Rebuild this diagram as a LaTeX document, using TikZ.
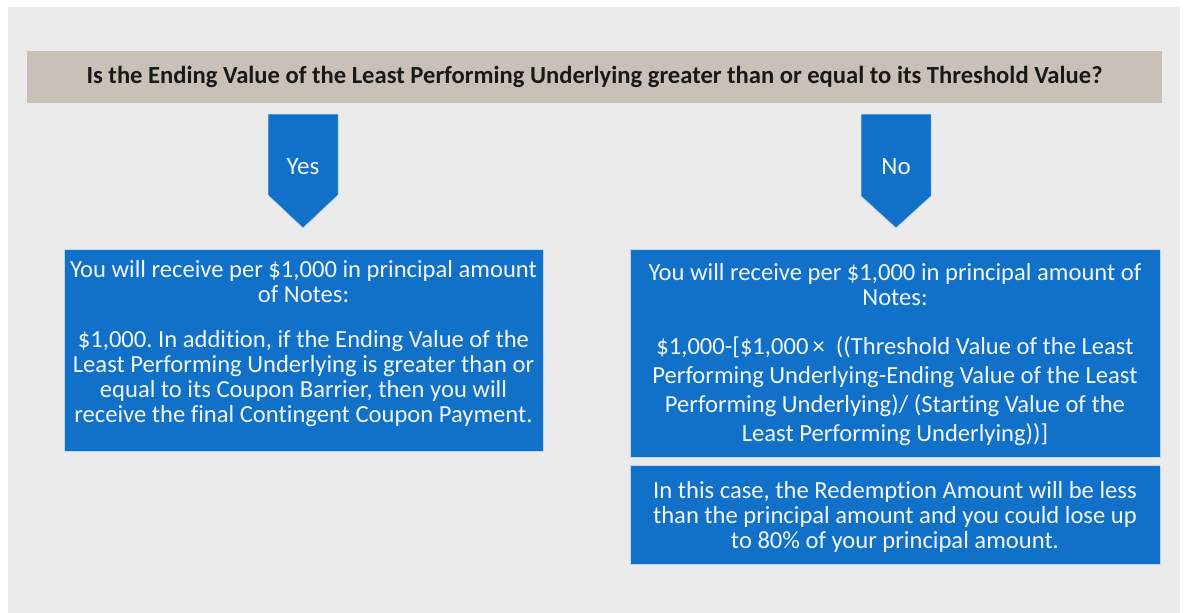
\documentclass[tikz,border=0pt]{standalone}
\usepackage{fontspec}
\setmainfont{Carlito}[Ligatures={NoCommon,TeX}]
\definecolor{pagebg}{RGB}{235,235,235}
\definecolor{bandgray}{RGB}{201,192,184}
\definecolor{myblue}{RGB}{17,112,200}
\definecolor{edgeblue}{RGB}{190,215,238}
\definecolor{softwhite}{RGB}{242,247,255}
\frenchspacing
\begin{document}
\begin{tikzpicture}[x=1pt,y=-1pt,
  band/.style={fill=bandgray, inner sep=0pt, font=\bfseries\fontsize{24.6}{26}\selectfont, text=black!90},
  box/.style={fill=myblue, draw=edgeblue, line width=0.7pt, inner sep=0pt},
  boxtext/.style={text=softwhite, align=center, inner sep=0pt, font=\fontsize{24.6}{25}\selectfont},
  pointer/.style={fill=myblue, draw=edgeblue, line width=0.5pt},
  pointertext/.style={text=softwhite, inner sep=0pt, font=\fontsize{25}{26}\selectfont}]
\useasboundingbox (0,0) rectangle (1186,613);
\fill[pagebg] (8,7) rectangle (1180,613);

% header band
\node[band, minimum width=1135pt, minimum height=52pt] (question) at (594.5,77)
  {Is the Ending Value of the Least Performing Underlying greater than or equal to its Threshold Value?};

% Yes pointer
\draw[pointer] (268,114) -- (338,114) -- (338,195) -- (303,228) -- (268,195) -- cycle;
\node[pointertext] (yes) at (303,167) {Yes};

% No pointer
\draw[pointer] (861,114) -- (931,114) -- (931,196) -- (896,228) -- (861,196) -- cycle;
\node[pointertext] (no) at (896,167) {No};

% Yes result box
\node[box, minimum width=479pt, minimum height=202pt] (yesbox) at (303.5,350) {};
\node[boxtext] (yestext) at (303.5,344)
  {You will receive per \$1,000 in principal amount\\
   of Notes:\\[20pt]
   \$1,000. In addition, if the Ending Value of the\\
   Least Performing Underlying is greater than or\\
   equal to its Coupon Barrier, then you will\\
   receive the final Contingent Coupon Payment.};

% No result boxes
\node[box, minimum width=530pt, minimum height=208pt] (nobox) at (895,353) {};
\node[boxtext] (notext) at (895,355)
  {You will receive per \$1,000 in principal amount of\\
   Notes:\\[24pt]
   \$1,000-[\$1,000\,×\ \ ((Threshold Value of the Least\\[4pt]
   Performing Underlying-Ending Value of the Least\\[4pt]
   Performing Underlying)/ (Starting Value of the\\[4pt]
   Least Performing Underlying))]};

\node[box, minimum width=530pt, minimum height=99pt] (lossbox) at (895,514.5) {};
\node[boxtext] (losstext) at (895,517)
  {In this case, the Redemption Amount will be less\\
   than the principal amount and you could lose up\\
   to 80\% of your principal amount.};
\end{tikzpicture}
\end{document}
